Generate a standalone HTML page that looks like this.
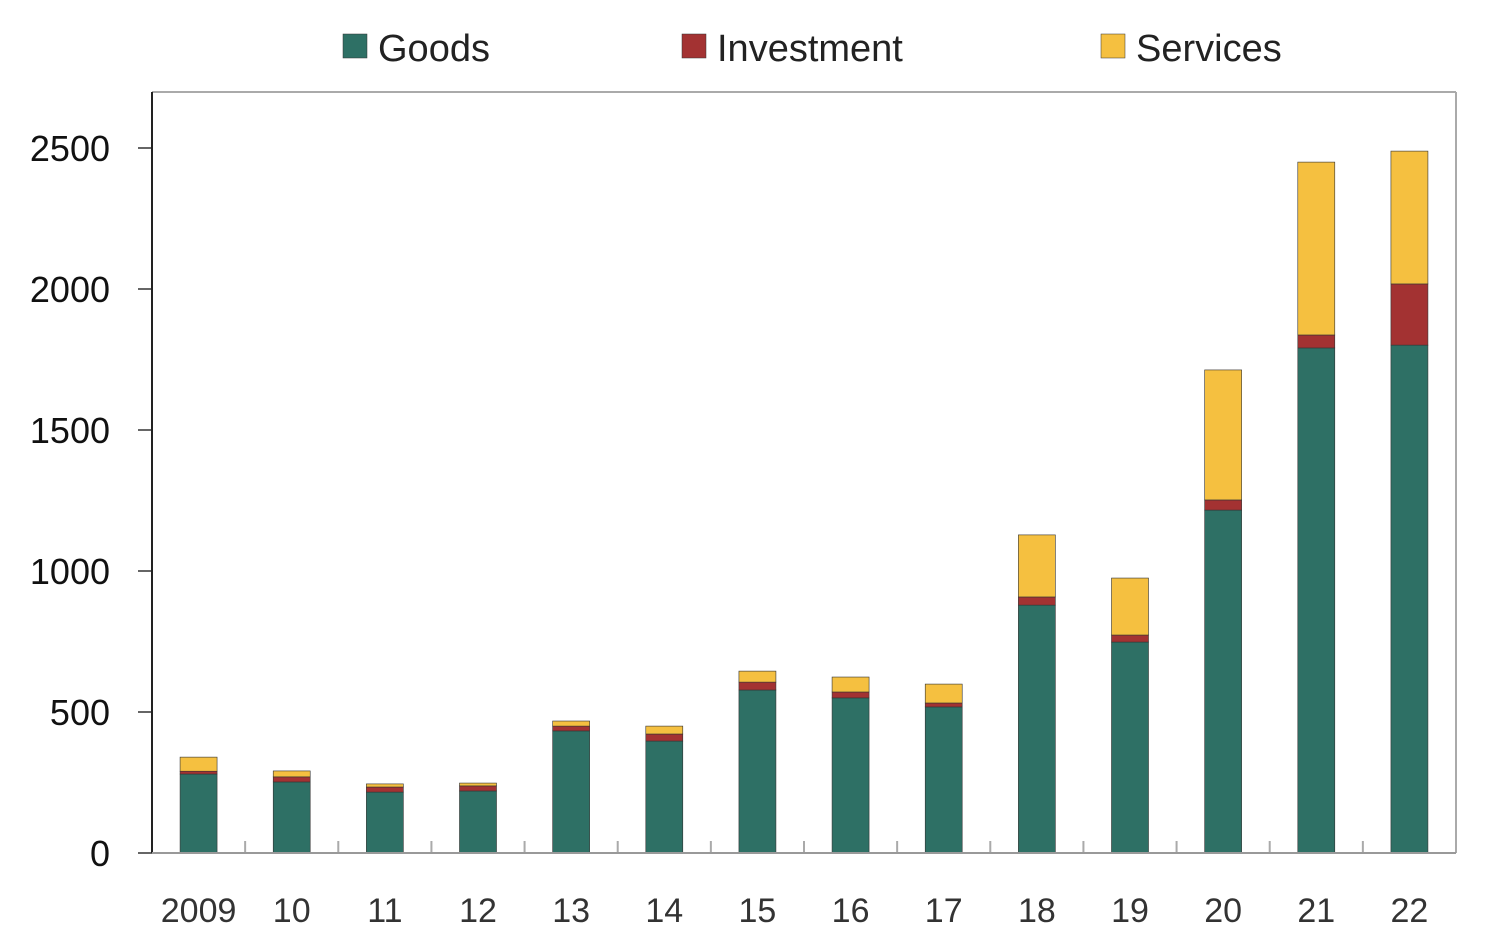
<!DOCTYPE html>
<html><head><meta charset="utf-8"><style>
body{margin:0;background:#fff;}
svg{display:block;font-family:"Liberation Sans","Noto Sans CJK KR",sans-serif;}
</style></head><body>
<svg id="chart" width="1492" height="948">
<g id="legend">
 <g><rect x="343" y="34" width="24" height="24" fill="#2e7065" stroke="#333" stroke-width="0.5"/><text x="378" y="61" font-size="38" fill="#222">Goods</text></g>
 <g><rect x="682" y="34" width="24" height="24" fill="#a33232" stroke="#333" stroke-width="0.5"/><text x="717" y="61" font-size="38" fill="#222">Investment</text></g>
 <g><rect x="1101" y="34" width="24" height="24" fill="#f5c040" stroke="#333" stroke-width="0.5"/><text x="1136" y="61" font-size="38" fill="#222">Services</text></g>
</g>
<line x1="152" y1="92" x2="1456" y2="92" stroke="#aaa" stroke-width="2"/>
<line x1="1456" y1="92" x2="1456" y2="853" stroke="#aaa" stroke-width="2"/>
<g id="bars"></g>
<g id="axes"></g>
</svg>
<script>
const categories=["2009","10","11","12","13","14","15","16","17","18","19","20","21","22"];
const goods=[280,252,216,220,433,397,578,550,518,879,748,1216,1791,1801];
const investment=[10,18,18,18,17,25,28,21,14,29,25,36,46,217];
const services=[50,21,11,10,18,28,39,53,67,220,202,461,613,471];
const yTicks=[0,500,1000,1500,2000,2500];
const NS="http://www.w3.org/2000/svg";
const L=152,R=1456,B=853,T=148,YMAX=2500;
const y=v=>B-(v/YMAX)*(B-T);
const step=(R-L)/categories.length;
const xc=i=>L+step*(i+0.5);
const bw=37;
const bars=document.getElementById('bars'),axes=document.getElementById('axes');
function mk(tag,attrs,parent){const e=document.createElementNS(NS,tag);for(const k in attrs)e.setAttribute(k,attrs[k]);parent.appendChild(e);return e;}
const series=[["goods",goods,"#2e7065"],["investment",investment,"#a33232"],["services",services,"#f5c040"]];
categories.forEach((c,i)=>{
 let base=0;
 series.forEach(([n,arr,col])=>{
  const v=arr[i];
  const r=mk('rect',{x:xc(i)-bw/2,y:y(base+v),width:bw,height:y(base)-y(base+v),fill:col,stroke:"#333","stroke-width":0.6},bars);
  
  
  base+=v;
 });
 const t=mk('text',{x:xc(i),y:922,"font-size":34,"text-anchor":"middle",fill:"#333"},axes);
 t.textContent=c;
 
 
 if(i>0){const tk=mk('line',{x1:L+step*i,x2:L+step*i,y1:853,y2:841,stroke:"#aaa","stroke-width":2},axes);
 
 }
});
yTicks.forEach(v=>{
 const t=mk('text',{x:110,y:y(v)+13,"font-size":36,"text-anchor":"end",fill:"#111"},axes);
 t.textContent=v;
 
 
 const tk=mk('line',{x1:152,x2:138,y1:y(v),y2:y(v),stroke:"#333","stroke-width":1.5},axes);
 
 
});
const ya=mk('line',{x1:L,x2:L,y1:92,y2:853,stroke:"#222","stroke-width":2},axes);


const xa=mk('line',{x1:L,x2:R,y1:853,y2:853,stroke:"#999","stroke-width":2},axes);


</script>
</body></html>
